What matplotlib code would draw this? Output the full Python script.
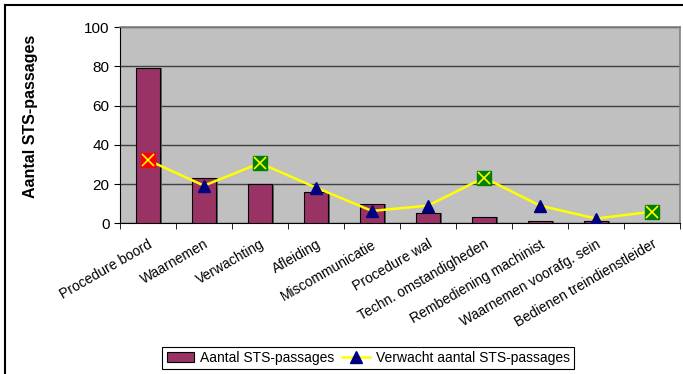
import matplotlib
matplotlib.use("Agg")
import matplotlib.pyplot as plt
from matplotlib.lines import Line2D
from matplotlib.patches import Patch
import numpy as np

plt.rcParams['font.family'] = ['Liberation Sans', 'DejaVu Sans']

categories = ["Procedure boord", "Waarnemen", "Verwachting", "Afleiding",
              "Miscommunicatie", "Procedure wal", "Techn. omstandigheden",
              "Rembediening machinist", "Waarnemen voorafg. sein",
              "Bedienen treindienstleider"]
aantal = [79, 23, 20, 16, 10, 5, 3, 1, 1, 0]
verwacht = [32.2, 19.2, 30.7, 18.2, 6.3, 9.0, 23.3, 9.0, 2.4, 5.9]
# marker per point: red square / green square with yellow cross, else triangle
marker_kind = ["red", "tri", "green", "tri", "tri", "tri", "green", "tri", "tri", "green"]

fig = plt.figure(figsize=(6.83, 3.74), dpi=100)
ax = fig.add_axes([0.1757, 0.403, 0.8199, 0.524])
ax.set_facecolor("#C0C0C0")

x = np.arange(len(categories))
# little shadow like excel
ax.bar(x + 0.04, aantal, width=0.42, color="#606060", zorder=2)
ax.bar(x, aantal, width=0.42, color="#993366", edgecolor="black", linewidth=0.8, zorder=3)

ax.plot(x, verwacht, color="#FFFF00", lw=1.8, zorder=4)
for i, k in enumerate(marker_kind):
    if k == "tri":
        ax.plot(x[i], verwacht[i], marker="^", ms=8, color="#000080", zorder=5)
    else:
        fc = "#FF0000" if k == "red" else "#008000"
        ax.plot(x[i], verwacht[i], marker="s", ms=10, mfc=fc, mec=fc, zorder=5)
        ax.plot(x[i], verwacht[i], marker="x", ms=8, mew=1.2, color="#FFFF00", zorder=6)

ax.set_xlim(-0.5, len(categories) - 0.5)
ax.set_ylim(0, 100)
ax.set_yticks(range(0, 101, 20))
ax.yaxis.grid(True, color="#404040", lw=1, zorder=1)
ax.set_axisbelow(True)

ax.set_xticks(x)
ax.set_xticklabels(categories, rotation=30, ha="right", rotation_mode="anchor", fontsize=10)
ax.set_xticks(np.arange(-0.5, len(categories), 1), minor=True)
ax.tick_params(axis="x", which="major", length=0, pad=10)
ax.tick_params(axis="x", which="minor", length=4, direction="out")
ax.tick_params(axis="y", labelsize=11, length=4)
for s in ["top", "right"]:
    ax.spines[s].set_color("#808080")
    ax.spines[s].set_linewidth(1.2)

fig.text(0.044, 0.689, "Aantal STS-passages", rotation=90, ha="center", va="center",
         fontsize=11.5, fontweight="bold")

handles = [Patch(facecolor="#993366", edgecolor="black", linewidth=0.8),
           Line2D([0], [0], color="#FFFF00", lw=1.8, marker="^", ms=8,
                  mfc="#000080", mec="#000080")]
leg = fig.legend(handles, ["Aantal STS-passages", "Verwacht aantal STS-passages"],
                 loc="center", bbox_to_anchor=(0.539, 0.043), ncol=2, fontsize=10,
                 fancybox=False, edgecolor="black", framealpha=1,
                 handlelength=2.0, columnspacing=0.6, handletextpad=0.4,
                 borderpad=0.3)
leg.get_frame().set_linewidth(0.8)

# chart area border (only top and left visible)
fig.add_artist(Line2D([5 / 683, 1], [1 - 5 / 374, 1 - 5 / 374], color="black", lw=1.5,
                      transform=fig.transFigure))
fig.add_artist(Line2D([5 / 683, 5 / 683], [0, 1 - 5 / 374], color="black", lw=1.5,
                      transform=fig.transFigure))

fig.savefig("out.png", dpi=100)
